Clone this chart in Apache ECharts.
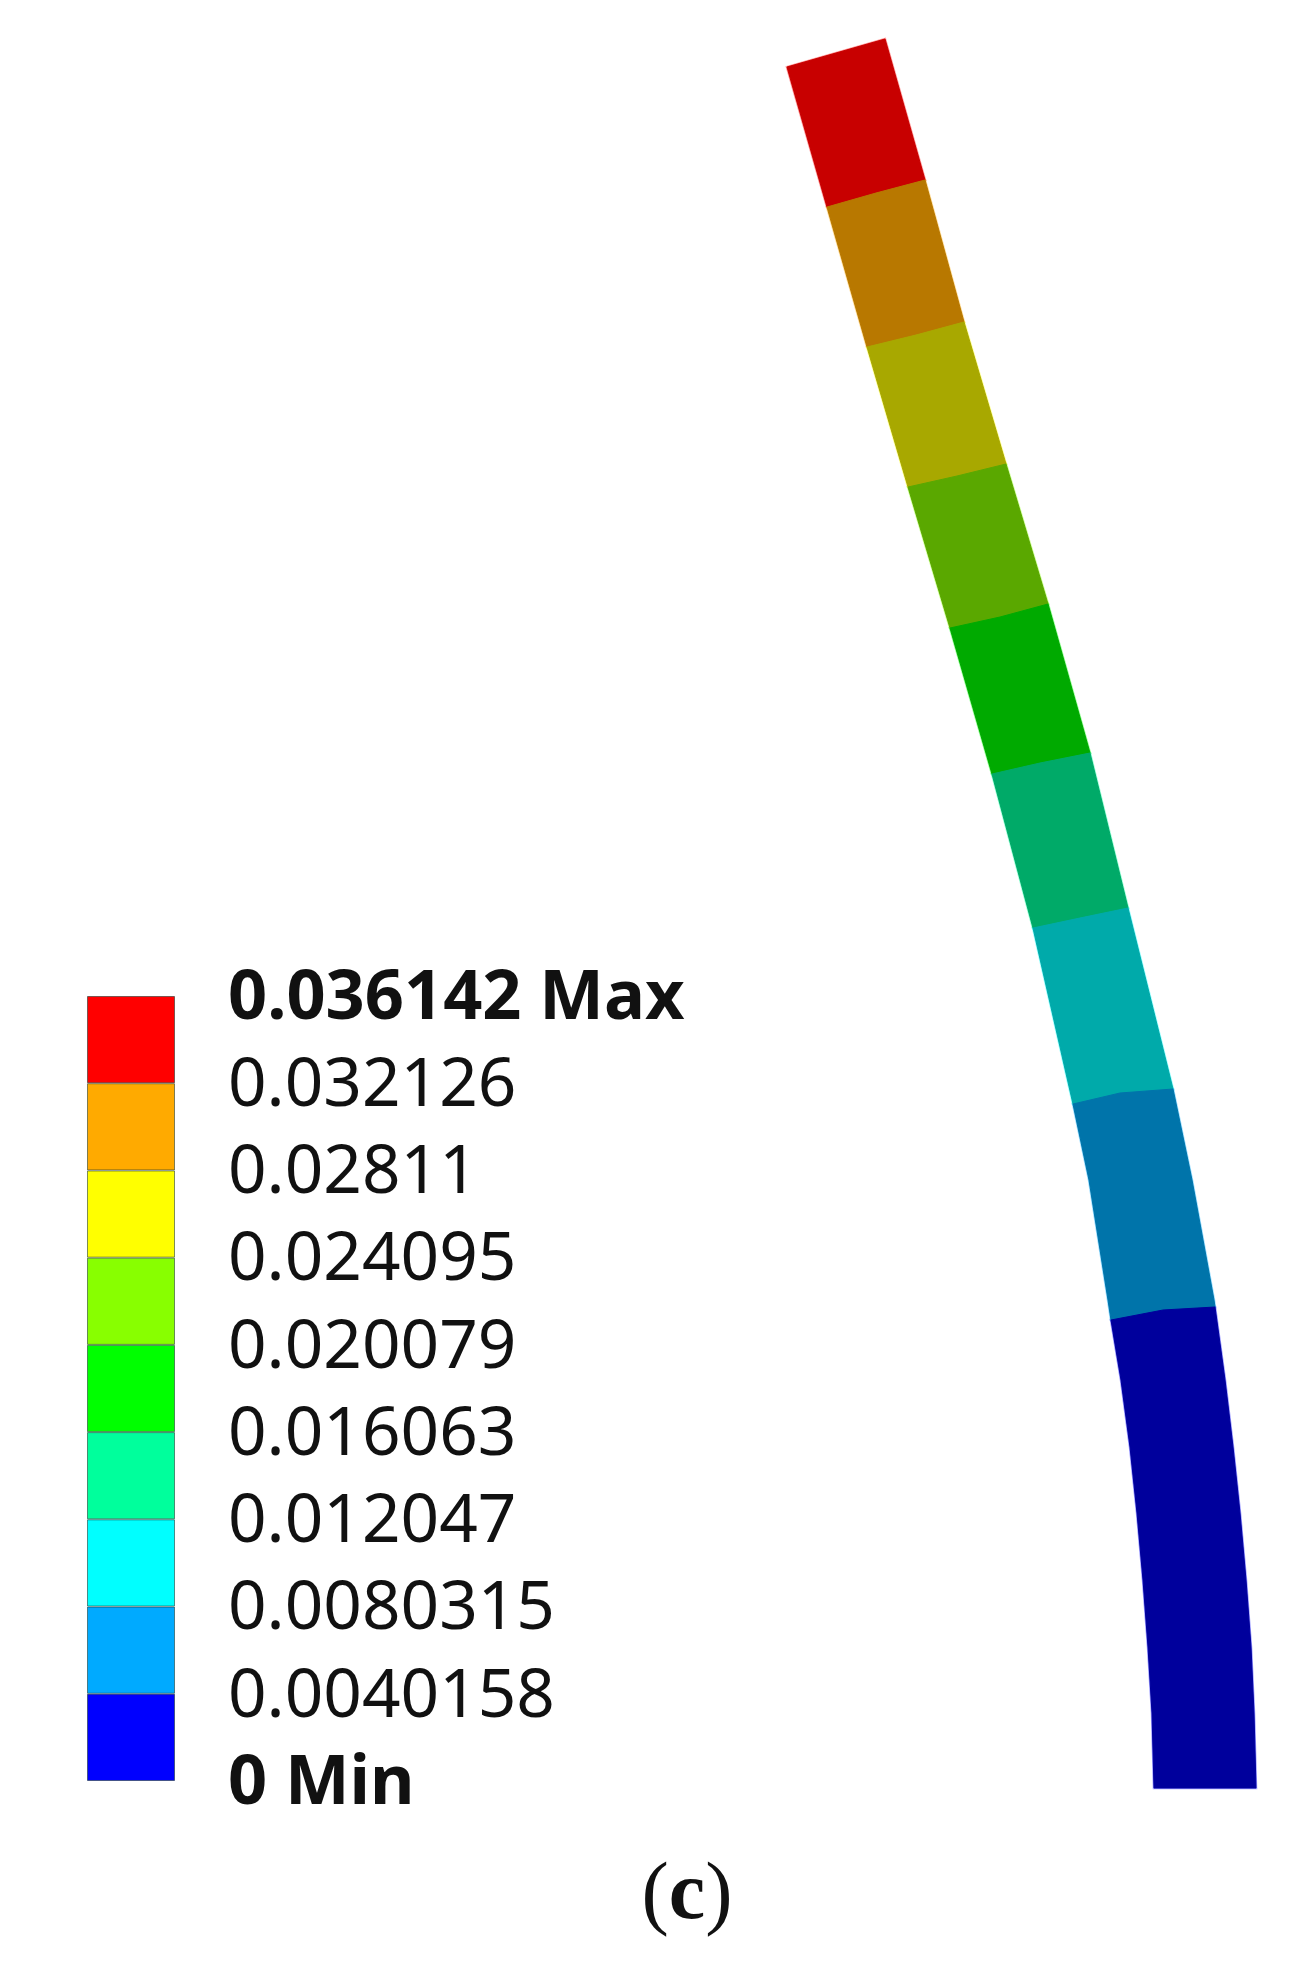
<!DOCTYPE html>
<html>
<head>
<meta charset="utf-8">
<style>html,body{margin:0;padding:0;background:#fff}#c{width:1315px;height:1970px}</style>
<script src="https://cdn.jsdelivr.net/npm/echarts@6/dist/echarts.min.js"></script>
</head>
<body>
<div id="c"></div>
<script>
// Legend levels (top to bottom) and labels
const levelValues = [0.036142, 0.032126, 0.02811, 0.024095, 0.020079, 0.016063, 0.012047, 0.0080315, 0.0040158, 0];
const levelLabels = ['0.036142 Max', '0.032126', '0.02811', '0.024095', '0.020079', '0.016063', '0.012047', '0.0080315', '0.0040158', '0 Min'];
const legendColors = ['#ff0000', '#ffaa00', '#ffff00', '#88ff00', '#00ff00', '#00ff9c', '#00ffff', '#00aaff', '#0000ff'];
const beamColors = ['#c80000', '#b87800', '#a8a800', '#5aa800', '#00aa00', '#00aa68', '#00aaaa', '#0074aa', '#00009c'];

// Beam geometry in model units (y measured upward from the sheet floor); one list per band, free end first.
const leftEdge = [
  [[78.7, 190.3], [82.7, 176.3]],
  [[82.7, 176.3], [86.7, 162.3]],
  [[86.7, 162.3], [90.8, 148.3]],
  [[90.8, 148.3], [95.0, 134.2]],
  [[95.0, 134.2], [99.2, 119.6]],
  [[99.2, 119.6], [103.3, 104.2]],
  [[103.3, 104.2], [107.3, 86.6]],
  [[107.3, 86.6], [108.9, 79.0], [110.8, 67.0], [111.1, 65.0]],
  [[111.1, 65.0], [112.1, 59.0], [113.0, 52.3], [113.7, 45.7], [114.3, 39.0], [114.8, 32.3], [115.2, 25.7], [115.4, 18.2]]
];
const rightEdge = [
  [[88.5, 193.1], [92.5, 179.0]],
  [[92.5, 179.0], [96.4, 164.8]],
  [[96.4, 164.8], [100.6, 150.6]],
  [[100.6, 150.6], [104.8, 136.6]],
  [[104.8, 136.6], [109.0, 121.7]],
  [[109.0, 121.7], [112.8, 106.2]],
  [[112.8, 106.2], [117.3, 88.1]],
  [[117.3, 88.1], [119.2, 79.0], [121.4, 67.0], [121.5, 66.3]],
  [[121.5, 66.3], [122.5, 59.0], [123.3, 52.3], [124.0, 45.7], [124.6, 39.0], [125.1, 32.3], [125.4, 25.7], [125.6, 18.2]]
];
// Slightly bowed contour between a band and the next one (mid-width point)
const lowerBoundaryMid = [
  [87.6, 177.7], [91.6, 163.5], [95.7, 149.4], [100.0, 135.3], [104.0, 120.7],
  [108.0, 105.2], [112.0, 87.7], [116.3, 66.0], [120.5, 18.2]
];

const bandIndex = beamColors.map((_, i) => i);
const bandSizes = legendColors.map((_, i) => levelValues[i] - levelValues[i + 1]);

const barSeries = legendColors.map((color, i) => ({ i, color })).reverse().map(({ i, color }) => ({
  type: 'bar',
  stack: 'scale',
  xAxisIndex: 1,
  yAxisIndex: 1,
  barWidth: '100%',
  data: [bandSizes[i]],
  silent: true,
  itemStyle: { color, borderColor: 'rgba(20,50,40,0.55)', borderWidth: 1 }
}));

function beamSeries(styleOf) {
  return {
    type: 'custom',
    xAxisIndex: 0,
    yAxisIndex: 0,
    coordinateSystem: 'cartesian2d',
    silent: true,
    clip: false,
    data: bandIndex.map(i => [i]),
    encode: { x: [], y: [] },
    renderItem: function (params, api) {
      const i = api.value(0);
      const pts = [].concat(
        i > 0 ? [lowerBoundaryMid[i - 1]] : [],
        rightEdge[i],
        [lowerBoundaryMid[i]],
        leftEdge[i].slice().reverse()
      );
      return {
        type: 'polygon',
        shape: { points: pts.map(p => api.coord(p)) },
        style: styleOf(i)
      };
    }
  };
}

const chart = echarts.init(document.getElementById('c'), null, { renderer: 'canvas' });
chart.setOption({
  animation: false,
  backgroundColor: '#fff',
  title: {
    text: '{p|(}{b|c}{p|)}',
    left: 682,
    top: 1851,
    textAlign: 'center',
    textStyle: {
      rich: {
        p: { fontFamily: 'Liberation Serif', fontSize: 82, color: '#111', fontWeight: 'normal' },
        b: { fontFamily: 'Liberation Serif', fontSize: 82, color: '#111', fontWeight: 'bold' }
      }
    }
  },
  grid: [
    { left: 0, top: 0, width: 1315, height: 1970 },
    { left: 87, top: 996, width: 88, height: 785 }
  ],
  xAxis: [
    { type: 'value', gridIndex: 0, min: 0, max: 131.5, show: false },
    { type: 'category', gridIndex: 1, data: ['scale'], axisLine: { show: false }, axisTick: { show: false }, axisLabel: { show: false } }
  ],
  yAxis: [
    { type: 'value', gridIndex: 0, min: 0, max: 197, show: false },
    {
      type: 'value',
      gridIndex: 1,
      position: 'right',
      min: 0,
      max: levelValues[0],
      axisLine: { show: false },
      axisTick: { show: false },
      splitLine: { show: false },
      axisLabel: {
        show: true,
        margin: 53,
        customValues: levelValues,
        showMinLabel: true,
        showMaxLabel: true,
        padding: [7, 0, 0, 0],
        fontFamily: 'Noto Sans',
        fontSize: 67.5,
        color: '#111',
        formatter: function (v) {
          const i = levelValues.indexOf(v);
          const s = levelLabels[i];
          return (i === 0 || i === levelValues.length - 1) ? '{b|' + s + '}' : s;
        },
        rich: { b: { fontFamily: 'Noto Sans', fontSize: 68.5, fontWeight: 'bold', color: '#111' } }
      }
    }
  ],
  series: [
    beamSeries(i => ({ fill: legendColors[i], stroke: legendColors[i], lineWidth: 2.5, opacity: 0.4 })),
    beamSeries(i => ({ fill: beamColors[i], stroke: beamColors[i], lineWidth: 1 }))
  ].concat(barSeries)
});
</script>
</body>
</html>
